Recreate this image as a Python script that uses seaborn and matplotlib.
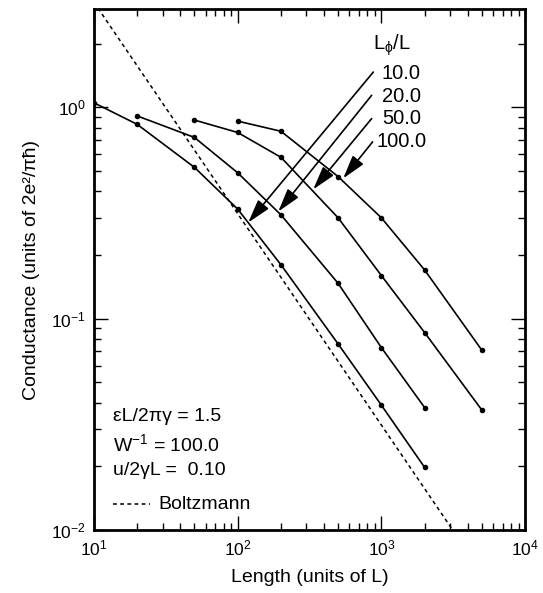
import pandas as pd
import matplotlib
matplotlib.use("Agg")
import matplotlib.pyplot as plt
import seaborn as sns
from matplotlib.ticker import LogLocator, NullFormatter

# data (Length in units of L, Conductance in 2e^2/(pi hbar))
len_10 = [10, 20, 50, 100, 200, 500, 1000, 2000]
cond_10 = [1.05, 0.83, 0.52, 0.33, 0.18, 0.076, 0.039, 0.0198]
len_20 = [20, 50, 100, 200, 500, 1000, 2000]
cond_20 = [0.91, 0.72, 0.49, 0.31, 0.147, 0.073, 0.038]
len_50 = [50, 100, 200, 500, 1000, 2000, 5000]
cond_50 = [0.87, 0.76, 0.58, 0.30, 0.16, 0.086, 0.037]
len_100 = [100, 200, 500, 1000, 2000, 5000]
cond_100 = [0.86, 0.77, 0.47, 0.30, 0.17, 0.071]
series_labels = ["10.0", "20.0", "50.0", "100.0"]

boltz_len = [10.0, 3140.0]
boltz_cond = [3.14, 0.01]

# arrow tips on the curves and arrow tails near the labels
arrow_tip_x = [118.5, 191.7, 335.7, 543.0]
arrow_tip_y = [0.285, 0.321, 0.409, 0.461]
arrow_tail_x = [879.0, 856.0, 856.0, 869.0]
arrow_tail_y = [1.467, 1.139, 0.884, 0.686]

params_text = ["εL/2πγ = 1.5",
               r"W$^{\mathregular{-1}}$ = 100.0",
               "u/2γL =  0.10"]

frames = []
for lab, xs, ys in zip(series_labels,
                        [len_10, len_20, len_50, len_100],
                        [cond_10, cond_20, cond_50, cond_100]):
    frames.append(pd.DataFrame({"Length": xs, "Conductance": ys, "Lphi": lab}))
df = pd.concat(frames, ignore_index=True)

sns.set_style("ticks")
plt.rcParams["font.family"] = ["Liberation Sans", "DejaVu Sans"]
plt.rcParams["mathtext.fontset"] = "custom"
plt.rcParams["mathtext.rm"] = "Liberation Sans"
plt.rcParams["mathtext.it"] = "Liberation Sans"
for key in ["text.color", "axes.labelcolor", "xtick.color", "ytick.color",
            "axes.edgecolor"]:
    plt.rcParams[key] = "black"

fig, ax = plt.subplots(figsize=(5.43, 5.93), dpi=100)
fig.subplots_adjust(left=0.173, right=0.967, top=0.984, bottom=0.106)

sns.lineplot(data=df, x="Length", y="Conductance", hue="Lphi",
             palette=["black"] * 4, marker="o", markersize=4,
             markeredgewidth=0, linewidth=1.2, legend=False,
             estimator=None, sort=False, ax=ax)
sns.lineplot(x=boltz_len, y=boltz_cond, color="black", linewidth=1.1,
             linestyle=(0, (2.5, 2.2)), ax=ax)

ax.set_xscale("log")
ax.set_yscale("log")
ax.set_xlim(10, 1e4)
ax.set_ylim(0.01, 2.9)

ax.xaxis.set_major_locator(LogLocator(base=10, numticks=10))
ax.xaxis.set_minor_locator(LogLocator(base=10, subs=range(2, 10), numticks=20))
ax.yaxis.set_major_locator(LogLocator(base=10, numticks=10))
ax.yaxis.set_minor_locator(LogLocator(base=10, subs=range(2, 10), numticks=20))
ax.xaxis.set_minor_formatter(NullFormatter())
ax.yaxis.set_minor_formatter(NullFormatter())
ax.tick_params(which="both", direction="in", top=True, right=True, width=1.0,
               labelsize=12.5, pad=6)
ax.tick_params(which="major", length=10)
ax.tick_params(which="minor", length=5)
for sp in ax.spines.values():
    sp.set_linewidth(2.0)
    sp.set_color("black")

ax.set_xlabel("Length (units of L)", fontsize=14, labelpad=8)
ax.set_ylabel("Conductance (units of 2e²/πħ)", fontsize=14, labelpad=8)

# arrows pointing at the curves
for tx, ty, sx, sy in zip(arrow_tip_x, arrow_tip_y, arrow_tail_x, arrow_tail_y):
    ax.annotate("", xy=(tx, ty), xytext=(sx, sy),
                arrowprops=dict(arrowstyle="-|>,head_length=1.2,head_width=0.35",
                                color="black", lw=1.2, shrinkA=0, shrinkB=0,
                                mutation_scale=12))

label_y = [1.45, 1.13, 0.88, 0.69]
ax.text(880, 1.97, r"L$_{\mathregular{\phi}}$/L", fontsize=14.5, va="center", ha="left")
for lab, ly in zip(series_labels, label_y):
    ax.text(1010 if lab != "100.0" else 930, ly, lab, fontsize=14.5,
            va="center", ha="left")

# parameter block bottom left
for i, t in enumerate(params_text):
    ax.text(0.045, 0.218 - i * 0.052, t, transform=ax.transAxes,
            fontsize=14, va="center", ha="left")
ax.plot([0.045, 0.13], [0.050, 0.050], transform=ax.transAxes, color="black",
        linewidth=1.1, linestyle=(0, (2.5, 2.2)))
ax.text(0.150, 0.050, "Boltzmann", transform=ax.transAxes, fontsize=14,
        va="center", ha="left")

plt.savefig("out.png", dpi=100)
plt.close()
